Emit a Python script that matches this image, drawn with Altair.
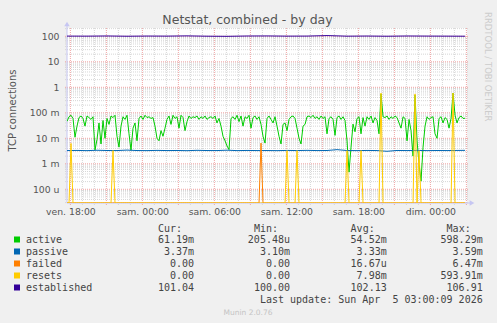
import altair as alt
import pandas as pd

NB = "\u00a0"

# ---------------- data ----------------
X_MIN, X_MAX = -6.28, 27.05          # hours relative to "sam. 00:00"
Y_MIN, Y_MAX = 2.9e-5, 212.0
STEP_H = 1.0 / 6.0                   # 10-minute samples

x_tick_hours = [-6, 0, 6, 12, 18, 24]
x_tick_labels = ["ven. 18:00", "sam. 00:00", "sam. 06:00", "sam. 12:00", "sam. 18:00", "dim. 00:00"]
y_tick_values = [1e-4, 1e-3, 1e-2, 1e-1, 1, 10, 100]
y_tick_labels = ["100 u", "1 m", "10 m", "100 m", "1" + NB, "10" + NB, "100" + NB]

# active connections (milli), one value per 10 minutes
active_m = [
    46, 70, 80, 60, 11, 30, 65, 75, 60, 30,
    75, 65, 55, 70, 3.5, 9, 40, 6, 50, 10,
    60, 35, 75, 65, 80, 12, 4.5, 30, 70, 55,
    80, 15, 3.4, 25, 40, 8, 60, 75, 55, 80,
    65, 70, 60, 65, 30, 10, 8, 20, 12, 25,
    55, 75, 35, 80, 60, 70, 25, 80, 65, 20,
    45, 75, 60, 70, 65, 75, 55, 70, 60, 75,
    55, 65, 70, 60, 75, 40, 60, 30, 12, 8,
    5, 3.6, 60, 70, 55, 80, 45, 75, 30, 70,
    60, 80, 25, 65, 75, 55, 70, 35, 12, 6.5,
    60, 75, 55, 40, 70, 30, 12, 6, 35, 40,
    20, 55, 70, 75, 60, 25, 10, 6, 30, 35,
    70, 75, 65, 80, 60, 70, 55, 75, 60, 70,
    15, 60, 70, 55, 13, 65, 75, 55, 70, 50,
    8, 0.47, 4.5, 36, 18, 60, 70, 15, 65, 30,
    70, 55, 75, 40, 65, 50, 15, 550, 70, 65,
    75, 55, 70, 60, 75, 65, 40, 25, 70, 60,
    8, 55, 20, 2, 500, 8, 1, 0.21, 4.5, 30,
    70, 55, 65, 70, 15, 10, 60, 70, 40, 65,
    55, 25, 60, 598, 80, 40, 65, 75, 60, 61.19,
]

# passive connections (milli), one value per 50 minutes, plus the last sample
passive_m = [
    3.30, 3.35, 3.28, 3.40, 3.32, 3.30, 3.45, 3.31, 3.29, 3.36,
    3.30, 3.33, 3.27, 3.38, 3.31, 3.30, 3.42, 3.29, 3.34, 3.30,
    3.31, 3.28, 3.35, 3.30, 3.37, 3.30, 3.32, 3.59, 3.31, 3.29,
    3.34, 3.30, 3.10, 3.33, 3.30, 3.36, 3.29, 3.32, 3.30, 3.34,
    3.37,
]
passive_idx = list(range(0, 200, 5)) + [199]

# established connections, one value per 100 minutes, plus the last sample
established_v = [
    102.0, 101.5, 103.2, 100.8, 102.5, 101.9, 104.1, 101.2, 100.0, 102.8,
    103.5, 101.7, 102.2, 106.91, 101.4, 102.6, 100.9, 103.0, 102.1, 101.6,
    101.04,
]
established_idx = list(range(0, 200, 10)) + [199]

# sparse events (sample index, milli)
failed_idx = [97]
failed_m = [6.47]
resets_idx = [2, 23, 110, 115, 140, 147, 157, 174, 176, 193]
resets_m = [6.3, 3.3, 3.3, 3.3, 3.3, 3.3, 590, 550, 3.3, 593.91]

# legend table
series_names = ["active", "passive", "failed", "resets", "established"]
series_colors = ["#00CC00", "#0066B3", "#FF8000", "#FFCC00", "#330099"]
stat_cur = ["61.19m", "3.37m", "0.00" + NB, "0.00" + NB, "101.04" + NB]
stat_min = ["205.48u", "3.10m", "0.00" + NB, "0.00" + NB, "100.00" + NB]
stat_avg = ["54.52m", "3.33m", "16.67u", "7.98m", "102.13" + NB]
stat_max = ["598.29m", "3.59m", "6.47m", "593.91m", "106.91" + NB]
stat_heads = ["Cur:", "Min:", "Avg:", "Max:"]

# ---------------- frames ----------------
N = len(active_m)
hours = [X_MIN + i * STEP_H for i in range(N)]


def floor_log(v):
    return max(v, Y_MIN)


def sparse(idx, vals):
    full = [0.0] * N
    for i, v in zip(idx, vals):
        full[i] = v * 1e-3
    return full


frames = {
    "active": pd.DataFrame({"h": hours, "v": [floor_log(v * 1e-3) for v in active_m]}),
    "passive": pd.DataFrame({"h": [hours[i] for i in passive_idx],
                             "v": [v * 1e-3 for v in passive_m]}),
    "failed": pd.DataFrame({"h": hours, "v": [floor_log(v) for v in sparse(failed_idx, failed_m)]}),
    "resets": pd.DataFrame({"h": hours, "v": [floor_log(v) for v in sparse(resets_idx, resets_m)]}),
    "established": pd.DataFrame({"h": [hours[i] for i in established_idx], "v": established_v}),
}

W, H = 400, 175
xs = alt.Scale(domain=[X_MIN, X_MAX], nice=False, zero=False)
ys = alt.Scale(type="log", domain=[Y_MIN, Y_MAX], nice=False)

label_x_expr = "[" + ",".join("'%s'" % s for s in x_tick_labels) + "][round(datum.value/6)+1]"
label_y_expr = "[" + ",".join("'%s'" % s for s in y_tick_labels) + "][round(log(datum.value)/LN10)+4]"

X_AXIS = alt.Axis(
    values=x_tick_hours, labelExpr=label_x_expr, grid=False, domain=False,
    ticks=False, tickSize=0, labelPadding=11, labelBaseline="alphabetic",
    labelFont="DejaVu Sans", labelFontSize=9.3, labelColor="#555555",
    labelFlush=False, labelOverlap=False, title=None)
Y_AXIS = alt.Axis(
    values=y_tick_values, labelExpr=label_y_expr,
    grid=False, domain=False, ticks=False, tickSize=0, labelPadding=8,
    labelFont="DejaVu Sans", labelFontSize=9.3, labelColor="#555555",
    labelOverlap=False, labelFlush=False,
    title="TCP connections", titleFont="DejaVu Sans", titleFontSize=10,
    titleFontWeight="normal", titleColor="#555555", titleAngle=270,
    titleX=-52, titleY=82, titleAlign="center", titleBaseline="alphabetic")


def XE(field):
    return alt.X(field, scale=xs, axis=X_AXIS)


def YE(field):
    return alt.Y(field, scale=ys, axis=Y_AXIS)


# grid positions
v_minor = [h for h in range(-6, 28) if h % 3 != 0]
v_major = [h for h in range(-6, 28) if h % 3 == 0]
h_minor = []
for d in range(-5, 3):
    for k in range(2, 10):
        val = k * 10.0 ** d
        if Y_MIN <= val <= Y_MAX:
            h_minor.append(val)
h_major = [10.0 ** d for d in range(-4, 3)]

GRID_MINOR = "#d6d6d6"
GRID_MAJOR = "#f0a4a4"

layers = []


def hgrid(vals, color):
    return alt.Chart(pd.DataFrame({"v": vals})).mark_rule(
        color=color, strokeWidth=1, strokeDash=[1, 1]
    ).encode(y=YE("v:Q"), x=alt.value(-2), x2=alt.value(W + 2))


def vgrid(vals, color):
    return alt.Chart(pd.DataFrame({"h": vals})).mark_rule(
        color=color, strokeWidth=1, strokeDash=[1, 1]
    ).encode(x=XE("h:Q"), y=alt.value(0), y2=alt.value(H + 2))


layers += [hgrid(h_minor, GRID_MINOR), vgrid(v_minor, GRID_MINOR),
           hgrid(h_major, GRID_MAJOR), vgrid(v_major, GRID_MAJOR)]

# axis lines + arrows
AX = "#c6c6f2"
layers.append(alt.Chart(pd.DataFrame({"a": [0]})).mark_rule(color=AX, strokeWidth=1).encode(
    x=alt.value(0), y=alt.value(-3), y2=alt.value(H)))
layers.append(alt.Chart(pd.DataFrame({"a": [0]})).mark_rule(color=AX, strokeWidth=1).encode(
    x=alt.value(0), x2=alt.value(W + 4), y=alt.value(H)))
layers.append(alt.Chart(pd.DataFrame({"a": [0]})).mark_point(
    shape="triangle-up", filled=True, color=AX, size=30, opacity=1).encode(
    x=alt.value(0), y=alt.value(-4)))
layers.append(alt.Chart(pd.DataFrame({"a": [0]})).mark_point(
    shape="triangle-right", filled=True, color=AX, size=30, opacity=1).encode(
    x=alt.value(W + 5), y=alt.value(H)))

# data lines, in rrdtool drawing order
for name, color in zip(series_names, series_colors):
    layers.append(alt.Chart(frames[name]).mark_line(
        color=color, strokeWidth=1, clip=True, interpolate="linear").encode(
        x=XE("h:Q"), y=YE("v:Q")))

# texts
OX, OY = 67, 28


def txt(s, x, y, size=10, font="DejaVu Sans Mono", color="#444444", align="left", angle=0):
    return alt.Chart(pd.DataFrame({"t": [s]})).mark_text(
        font=font, fontSize=size, color=color, align=align, baseline="alphabetic", angle=angle
    ).encode(x=alt.value(x - OX), y=alt.value(y - OY), text="t:N")


layers.append(txt("Netstat, combined - by day", 247.5, 24, size=12.5, font="DejaVu Sans",
                  color="#555555", align="center"))
layers.append(txt("RRDTOOL / TOBI OETIKER", 485, 12, size=8.5, font="DejaVu Sans",
                  color="#cccccc", angle=90))

col_right = [194, 290, 386.7, 482.7]
for c, head in enumerate(stat_heads):
    layers.append(txt(head, col_right[c] - 36.1, 231.5))

ROW0, DY = 243, 12
for r, name in enumerate(series_names):
    yb = ROW0 + DY * r
    layers.append(alt.Chart(pd.DataFrame({"a": [0]})).mark_rect(color=series_colors[r]).encode(
        x=alt.value(14 - OX), x2=alt.value(20 - OX),
        y=alt.value(yb - 6.5 - OY), y2=alt.value(yb - 0.5 - OY)))
    layers.append(txt(name, 26, yb))
    for c, col in enumerate([stat_cur, stat_min, stat_avg, stat_max]):
        layers.append(txt(col[r], col_right[c], yb, align="right"))

layers.append(txt("Last update: Sun Apr" + NB + NB + "5 03:00:09 2026", 482.7, 303, align="right"))
layers.append(txt("Munin 2.0.76", 248, 315, size=7.5, font="DejaVu Sans", color="#c4c4c4",
                  align="center"))

chart = alt.layer(*layers).properties(
    width=W, height=H,
    background="#F0F0F0",
    padding={"left": OX, "top": OY, "right": 497 - OX - W, "bottom": 323 - OY - H},
    autosize=alt.AutoSizeParams(type="none"),
).configure_view(fill="#FFFFFF", stroke=None)

chart.save("out.html", embed_options={"renderer": "svg", "actions": False})
